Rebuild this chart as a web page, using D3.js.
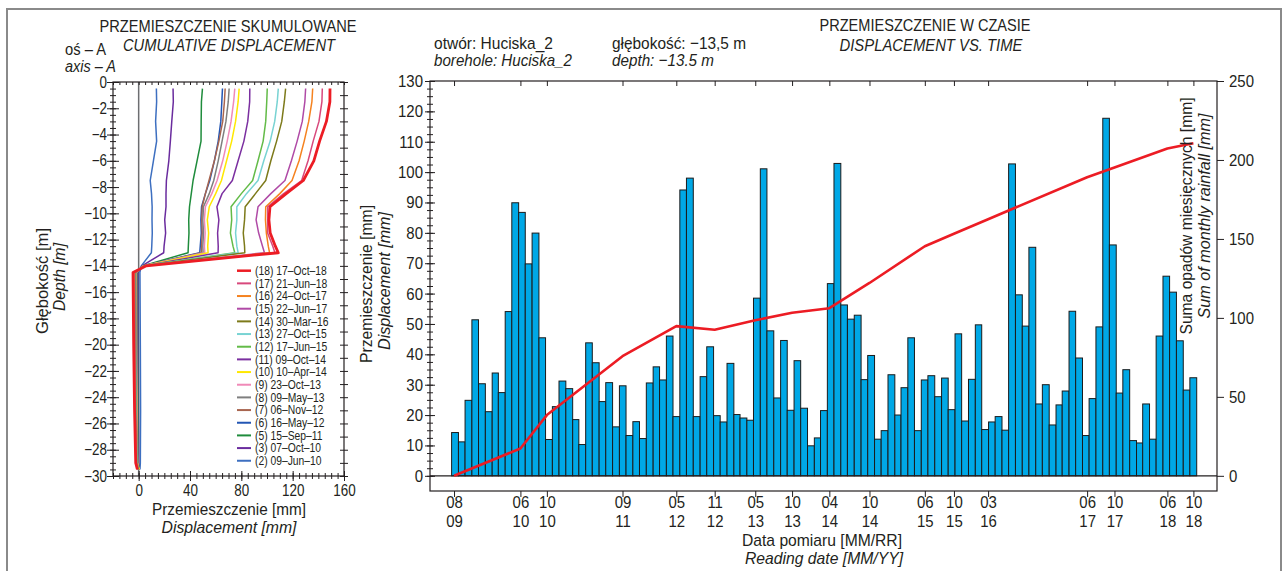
<!DOCTYPE html>
<html><head><meta charset="utf-8">
<script src="https://cdn.jsdelivr.net/npm/d3@7"></script>
<style>
body{margin:0;background:#fff}
svg{display:block}
text{font-family:'Liberation Sans',Arial,sans-serif;fill:#231f20}
</style>
</head><body>
<svg id="c" width="1288" height="571"></svg>
<script>
// ---------- DATA: cumulative displacement profiles (axis A) ----------
const depths = [-0.5, -1.5, -3, -4.5, -6, -7.5, -8.5, -9.5, -10.5, -11.5, -12.5, -13, -14, -14.5, -20, -25, -29, -29.5];
const profileLabels = ["(2) 09–Jun–10","(3) 07–Oct–10","(5) 15–Sep–11","(6) 16–May–12","(7) 06–Nov–12","(8) 09–May–13","(9) 23–Oct–13","(10) 10–Apr–14","(11) 09–Oct–14","(12) 17–Jun–15","(13) 27–Oct–15","(14) 30–Mar–16","(15) 22–Jun–17","(16) 24–Oct–17","(17) 21–Jun–18","(18) 17–Oct–18"];
const profileColors = ["#3d6fc0","#6a2c9e","#1f8c3c","#2356b4","#a8654f","#7f7f7f","#f08ab8","#ffe800","#7b2fa0","#63bb48","#78d3d3","#7d7a1a","#b04aa6","#f5821f","#d8487c","#ec1c24"];
const p2  = [13.8, 14.0, 13.2, 14.0, 11.5, 9.0, 10.0, 10.5, 10.4, 10.6, 10.2, 9.9, 2.0, 1.0, 1.3, 1.5, 1.3, 1.0];
const p3  = [26.8, 27.0, 25.8, 24.7, 23.5, 21.6, 21.3, 21.3, 20.3, 21.0, 19.8, 19.5, 2.5, -0.5, -0.3, -0.2, 0, 0.5];
const p5  = [49.7, 48.9, 48.7, 48.6, 45.5, 42.4, 41.0, 39.6, 39.0, 39.2, 38.7, 38.5, 3.0, -1.0, -0.8, -0.6, -0.3, 0.3];
const p6  = [65.3, 64.8, 64.0, 62.0, 59.0, 55.4, 52.0, 49.0, 48.5, 48.8, 48.0, 47.6, 3.3, -1.4, -1.2, -1.0, -0.5, 0.2];
const p7  = [67.4, 66.8, 65.5, 62.5, 59.0, 54.8, 52.0, 49.5, 49.2, 49.5, 49.0, 48.9, 3.4, -1.6, -1.4, -1.1, -0.7, 0];
const p8  = [70.5, 69.8, 68.0, 65.0, 62.0, 58.5, 55.0, 50.5, 50.0, 50.5, 50.0, 50.2, 3.5, -1.8, -1.6, -1.3, -0.8, 0];
const p9  = [74.9, 74.0, 72.0, 69.0, 65.5, 61.1, 57.0, 52.0, 51.2, 51.8, 51.2, 51.5, 3.6, -2.0, -1.8, -1.5, -1.0, 0];
const p10 = [78.3, 77.5, 75.5, 72.5, 68.5, 64.5, 60.0, 55.0, 53.5, 54.5, 53.8, 54.1, 3.8, -2.2, -2.0, -1.6, -1.0, 0.5];
const p11 = [86.6, 86.5, 85.0, 82.0, 77.5, 73.0, 65.0, 61.0, 62.5, 61.5, 62.0, 61.9, 4.0, -2.4, -2.2, -1.8, -1.2, -0.2];
const p12 = [100.2, 99.8, 99.0, 97.0, 93.0, 88.8, 80.0, 72.0, 72.5, 71.5, 73.5, 74.9, 4.2, -2.6, -2.4, -2.0, -1.4, -0.3];
const p13 = [108.8, 108.0, 106.0, 102.5, 97.5, 93.0, 84.0, 76.5, 76.5, 75.5, 76.5, 77.5, 4.3, -2.8, -2.6, -2.2, -1.5, -0.4];
const p14 = [114.5, 113.5, 111.5, 107.5, 103.0, 99.0, 91.0, 83.0, 82.5, 81.5, 82.5, 82.7, 4.5, -3.0, -2.8, -2.4, -1.7, -0.5];
const p15 = [130.1, 129.5, 127.5, 123.5, 119.0, 114.0, 103.0, 93.0, 91.5, 93.5, 96.5, 98.0, 4.8, -3.3, -3.0, -2.6, -1.8, -0.7];
const p16 = [135.6, 135.0, 132.5, 129.0, 125.0, 119.5, 110.0, 99.0, 98.8, 99.5, 101.0, 102.0, 5.0, -3.6, -3.3, -2.8, -2.0, -0.8];
const p17 = [143.1, 142.8, 140.5, 136.0, 132.0, 127.0, 113.0, 100.5, 100.5, 100.5, 104.5, 106.2, 5.5, -4.0, -3.6, -3.0, -2.2, -1.0];
const p18 = [149.1, 149.0, 146.3, 141.0, 136.5, 128.3, 115.0, 102.3, 101.5, 102.5, 106.5, 108.8, 6.0, -4.4, -3.9, -3.2, -2.3, -1.0];
const profiles = [p2,p3,p5,p6,p7,p8,p9,p10,p11,p12,p13,p14,p15,p16,p17,p18];
const depthTicks = d3.range(0, -30.01, -2);
const dispTicks = [0, 40, 80, 120, 160];

// ---------- DATA: displacement vs time at -13.5 m ----------
const readingDates = ["2009-08-12","2010-06-09","2010-10-07","2011-09-15","2012-05-16","2012-11-06","2013-05-09","2013-10-23","2014-04-10","2014-10-09","2015-06-17","2015-10-27","2016-03-30","2017-06-22","2017-10-24","2018-06-21","2018-10-17"];
const displacement = [0, 9.0, 20.0, 39.4, 49.3, 48.1, 51.2, 53.7, 55.2, 63.5, 75.6, 79.7, 84.5, 98.3, 101.5, 107.8, 109.5];
// monthly rainfall sums, Aug 2009 .. Oct 2018
const rainStart = "2009-08-01";
const rainfall = [27.4, 21.5, 47.8, 98.8, 58.3, 40.6, 65.1, 52.7, 104, 172.9,
  166.8, 134.2, 153.7, 87.4, 23, 43.8, 60, 55.2, 35.6, 19.8,
  84.2, 71.6, 47, 59, 31, 57, 25.5, 34.3, 23.6, 58.8,
  69, 60.7, 88.5, 37.5, 181, 188.5, 37.5, 62.8, 81.7, 38.1,
  34.1, 71.2, 38.8, 36.6, 35.2, 112.5, 194.4, 91.8, 49.3, 85.7,
  41.5, 72.9, 42.8, 19, 24, 41.3, 121.7, 197.8, 108.2, 99.2,
  101.7, 60.9, 76.2, 23.2, 28.6, 64, 38.5, 55.8, 87.4, 28.6,
  60.7, 63.4, 50.1, 61.9, 41.9, 89.9, 34.7, 61.1, 95.6, 29.3,
  34.1, 37.5, 28.9, 197.5, 114.6, 94.8, 144.7, 45.5, 57.7, 32.2,
  44.9, 53.7, 104.2, 74.6, 25.5, 48.9, 94.3, 226.4, 146.2, 52.4,
  67.2, 22.3, 20.8, 45.5, 23.2, 88.5, 126.4, 116.3, 85.5, 54.3, 62.1];
const dispAxisTicks = d3.range(0, 131, 10);
const rainAxisTicks = [0, 50, 100, 150, 200, 250];

// ---------- drawing ----------
const svg = d3.select("#c");
const parse = d3.timeParse("%Y-%m-%d");
const INK = "#231f20";

function squeeze(sel, f){
  sel.each(function(){
    const w = this.getComputedTextLength();
    if (w > 0) d3.select(this).attr("textLength", w*f).attr("lengthAdjust","spacingAndGlyphs");
  });
}
function T(x, y, str, size, width, opts={}){
  const t = svg.append("text").attr("font-size", size).text(str);
  if (opts.rot) t.attr("transform", `translate(${x},${y}) rotate(-90)`);
  else t.attr("x", x).attr("y", y);
  if (opts.anchor) t.attr("text-anchor", opts.anchor);
  if (opts.italic) t.attr("font-style", "italic");
  if (width) t.attr("textLength", width).attr("lengthAdjust", "spacingAndGlyphs");
  return t;
}

svg.append("rect").attr("x",7).attr("y",9).attr("width",1274).attr("height",580)
  .attr("fill","none").attr("stroke","#8a8a8a").attr("stroke-width",2);

// ===== LEFT CHART =====
const xL = d3.scaleLinear([-20,160],[113,344]);
const yL = d3.scaleLinear([0,-30],[82,476]);
const gL = svg.append("g");

gL.append("line").attr("x1",xL(0)).attr("x2",xL(0)).attr("y1",yL(0)).attr("y2",yL(-30))
  .attr("stroke","#6d6e71").attr("stroke-width",1.5);

const lineL = d3.line().x(d=>xL(d[1])).y(d=>yL(d[0]));
profiles.forEach((p,i)=>{
  gL.append("path").datum(depths.map((d,j)=>[d,p[j]]))
    .attr("d",lineL).attr("fill","none").attr("stroke",profileColors[i])
    .attr("stroke-width", i===profiles.length-1 ? 2.8 : 1.5).attr("stroke-linejoin","round");
});

function cross(g, dir, a, b){ g.selectAll(".tick line").attr(dir+"1", a).attr(dir+"2", b); }
const axLmin = gL.append("g").attr("transform",`translate(${xL(-20)},0)`)
  .call(d3.axisLeft(yL).tickValues(d3.range(0,-30.01,-0.5)).tickSize(3).tickFormat(""));
cross(axLmin,"x",-3,3);
const axLmaj = gL.append("g").attr("transform",`translate(${xL(-20)},0)`)
  .call(d3.axisLeft(yL).tickValues(depthTicks).tickSize(6).tickPadding(0)
    .tickFormat(d=> d===0 ? "0" : "−"+Math.abs(d)));
cross(axLmaj,"x",-6,6);
const axLr = gL.append("g").attr("transform",`translate(${xL(160)},0)`)
  .call(d3.axisRight(yL).tickValues(d3.range(0,-30.01,-1)).tickSize(4).tickFormat(""));
cross(axLr,"x",-4,4);
const axLbmin = gL.append("g").attr("transform",`translate(0,${yL(-30)})`)
  .call(d3.axisBottom(xL).tickValues(d3.range(-20,160.1,5)).tickSize(3).tickFormat(""));
cross(axLbmin,"y",-3,3);
const axLb = gL.append("g").attr("transform",`translate(0,${yL(-30)})`)
  .call(d3.axisBottom(xL).tickValues(dispTicks).tickSize(5).tickPadding(4));
cross(axLb,"y",-5,5);
gL.append("g").attr("transform",`translate(0,${yL(0)})`)
  .call(d3.axisBottom(xL).tickValues(d3.range(-20,160.1,5)).tickSize(3).tickFormat(""));
gL.selectAll(".domain").remove();
gL.selectAll(".tick line").attr("stroke",INK);
gL.selectAll(".tick text").attr("font-size",16).attr("fill",INK)
  .style("font-family","'Liberation Sans',Arial,sans-serif");
squeeze(gL.selectAll(".tick text"), 0.84);
gL.append("rect").attr("x",xL(-20)).attr("y",yL(0)).attr("width",xL(160)-xL(-20)).attr("height",yL(-30)-yL(0))
  .attr("fill","none").attr("stroke",INK).attr("stroke-width",1.2);

// legend
const leg = gL.append("g");
profileLabels.slice().reverse().forEach((lab,k)=>{
  const i = profileLabels.length-1-k;
  const y = 270.7 + k*12.67;
  leg.append("line").attr("x1",237).attr("x2",251).attr("y1",y).attr("y2",y)
    .attr("stroke",profileColors[i]).attr("stroke-width", i===profiles.length-1?2.5:2);
  leg.append("text").attr("x",255).attr("y",y+4.3).attr("font-size",12).text(lab);
});
squeeze(leg.selectAll("text"), 0.86);

// titles left
T(228,32,"PRZEMIESZCZENIE SKUMULOWANE",17,257,{anchor:"middle"});
T(229,51,"CUMULATIVE DISPLACEMENT",17,212,{anchor:"middle",italic:true});
T(65,55,"oś – A",16,41);
T(65,72,"axis – A",16,51,{italic:true});
T(48,281,"Głębokość [m]",17,106,{anchor:"middle",rot:true});
T(65,277,"Depth [m]",17,68,{anchor:"middle",rot:true,italic:true});
T(229,515,"Przemieszczenie [mm]",17,154,{anchor:"middle"});
T(229,533,"Displacement [mm]",17,135,{anchor:"middle",italic:true});

// ===== RIGHT CHART =====
const xR = d3.scaleTime([parse("2009-04-25"), parse("2019-02-01")],[430,1217]);
const yR = d3.scaleLinear([-5,130],[491,81]);
const yRain = d3.scaleLinear([0,250],[yR(0),81]);
const gR = svg.append("g");

const months = d3.timeMonth.range(parse(rainStart), d3.timeMonth.offset(parse(rainStart), rainfall.length));
gR.append("g").selectAll("rect").data(rainfall).join("rect")
  .attr("x",(d,i)=>xR(months[i]))
  .attr("width",(d,i)=>xR(d3.timeMonth.offset(months[i],1))-xR(months[i]))
  .attr("y",d=>yRain(d)).attr("height",d=>yRain(0)-yRain(d))
  .attr("fill","#00a8e6").attr("stroke","#1b1b1b").attr("stroke-width",1);

gR.append("line").attr("x1",430).attr("x2",1217).attr("y1",yR(0)).attr("y2",yR(0)).attr("stroke",INK).attr("stroke-width",1.2);

const dates = readingDates.map(parse);
gR.append("path").datum(dates.map((d,i)=>[d,displacement[i]]))
  .attr("d", d3.line().x(d=>xR(d[0])).y(d=>yR(d[1])))
  .attr("fill","none").attr("stroke","#ec1c24").attr("stroke-width",2.6).attr("stroke-linejoin","round");

const aRmin = gR.append("g").attr("transform","translate(430,0)")
  .call(d3.axisLeft(yR).tickValues(d3.range(0,130.1,2.5)).tickSize(3).tickFormat(""));
cross(aRmin,"x",-3,3);
const aRmaj = gR.append("g").attr("transform","translate(430,0)")
  .call(d3.axisLeft(yR).tickValues(dispAxisTicks).tickSize(5).tickPadding(2));
cross(aRmaj,"x",-5,5);
gR.append("g").attr("transform","translate(1217,0)")
  .call(d3.axisRight(yRain).tickValues(rainAxisTicks).tickSize(7).tickPadding(5));
gR.append("g").attr("transform","translate(0,81)")
  .call(d3.axisBottom(xR).tickValues(dates).tickSize(5).tickFormat(""));
const aRb = gR.append("g").attr("transform","translate(0,491)")
  .call(d3.axisBottom(xR).tickValues(dates).tickSize(6).tickFormat(""));
aRb.selectAll(".tick").each(function(d){
  const t = d3.select(this);
  t.append("text").attr("y",17).attr("text-anchor","middle").text(d3.timeFormat("%m")(d));
  t.append("text").attr("y",36).attr("text-anchor","middle").text(d3.timeFormat("%y")(d));
});
gR.selectAll(".domain").remove();
gR.selectAll(".tick line").attr("stroke",INK);
gR.selectAll(".tick text").attr("font-size",17).attr("fill",INK)
  .style("font-family","'Liberation Sans',Arial,sans-serif");
squeeze(gR.selectAll(".tick text"), 0.88);
gR.append("rect").attr("x",430).attr("y",81).attr("width",1217-430).attr("height",491-81)
  .attr("fill","none").attr("stroke",INK).attr("stroke-width",1.2);

// texts right
T(925,31,"PRZEMIESZCZENIE W CZASIE",17,211,{anchor:"middle"});
T(931,51,"DISPLACEMENT VS. TIME",17,183,{anchor:"middle",italic:true});
T(434,49,"otwór: Huciska_2",17,119);
T(434,66,"borehole: Huciska_2",17,138,{italic:true});
T(612,49,"głębokość: −13,5 m",17,134);
T(612,66,"depth: −13.5 m",17,102,{italic:true});
T(372,284,"Przemieszczenie [mm]",17,158,{anchor:"middle",rot:true});
T(390,281,"Displacement [mm]",17,138,{anchor:"middle",rot:true,italic:true});
T(1192,216,"Suma opadów miesięcznych [mm]",17,237,{anchor:"middle",rot:true});
T(1210,216,"Sum of monthly rainfall [mm]",17,205,{anchor:"middle",rot:true,italic:true});
T(822,546,"Data pomiaru [MM/RR]",17,160,{anchor:"middle"});
T(824,564,"Reading date [MM/YY]",17,158,{anchor:"middle",italic:true});
</script>
</body></html>
